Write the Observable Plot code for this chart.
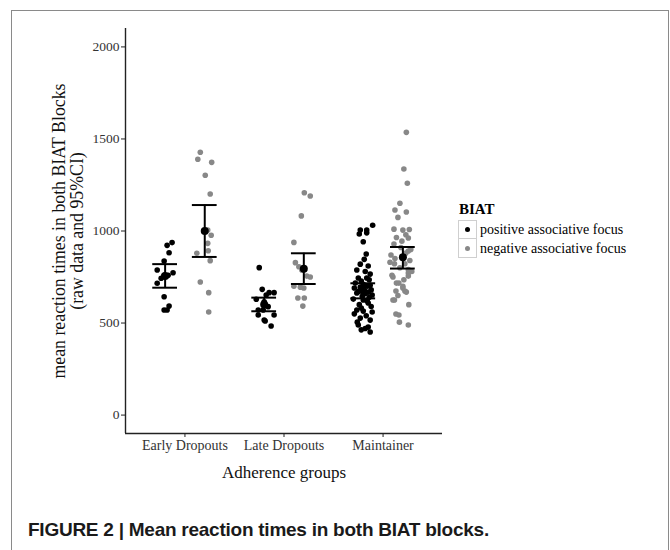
<!DOCTYPE html>
<html>
<head>
<meta charset="utf-8">
<script src="https://cdn.jsdelivr.net/npm/d3@7"></script>
<script src="https://cdn.jsdelivr.net/npm/@observablehq/plot@0.6"></script>
<style>
  html, body { margin: 0; padding: 0; background: #fff; }
  #fig { position: absolute; left: 11px; top: 10px; width: 658px; height: 600px; box-sizing: border-box;
         border: 1px solid #8a8a8a; background: #fff; }
  #chart { position: absolute; left: 0; top: 0; }
  #legend { position: absolute; left: 446px; top: 190px; font-family: "Liberation Serif", "DejaVu Serif", serif; color: #000; }
  #legend .title { font-weight: bold; font-size: 15px; margin-bottom: 2px; margin-left: 1px; }
  #legend .row { display: flex; align-items: center; height: 19px; font-size: 14px; }
  #legend .key { width: 19px; height: 19px; border: 1px solid #cfcfcf; box-sizing: border-box; display: flex;
                 align-items: center; justify-content: center; margin-right: 3px; }
  #legend .row + .row .key { border-top: none; }
  #legend .dot { width: 5px; height: 5px; border-radius: 50%; }
  #caption { position: absolute; left: 16px; top: 508px; font-family: "Liberation Sans", Arial, sans-serif;
             font-weight: bold; font-size: 19px; letter-spacing: -0.25px; color: #1a1a1a; white-space: nowrap; }
</style>
</head>
<body>
<div id="fig">
  <div id="chart"></div>
  <div id="legend"></div>
  <div id="caption">FIGURE 2 | Mean reaction times in both BIAT blocks.</div>
</div>
<script>
// ---- data ----
const groups = ["Early Dropouts", "Late Dropouts", "Maintainer"];
const series = ["positive associative focus", "negative associative focus"];
const seriesColors = ["#000000", "#888888"];
const yTicks = [0, 500, 1000, 1500, 2000];
const yTitle = "mean reaction times in both BIAT Blocks\n(raw data and 95%CI)";
const xTitle = "Adherence groups";

// raw reaction times per group/series, with horizontal jitter (category units)
const earlyPosRT  = [937, 922, 882, 837, 788, 773, 759, 759, 743, 716, 643, 592, 571, 571];
const earlyPosJit = [0.07, 0.02, 0.04, -0.01, -0.08, 0.08, -0.01, 0.03, -0.04, -0.08, -0.01, 0.04, -0.01, 0.02];
const earlyNegRT  = [1428, 1390, 1373, 1303, 1201, 1005, 977, 933, 893, 879, 839, 723, 665, 560];
const earlyNegJit = [-0.045, -0.07, 0.07, 0.005, 0.055, 0.03, 0.065, 0.03, 0.035, -0.08, 0.055, -0.045, 0.04, 0.04];
const latePosRT   = [801, 683, 665, 665, 652, 629, 616, 589, 571, 571, 544, 544, 516, 511, 484];
const latePosJit  = [-0.05, -0.02, 0.05, 0.1, 0.02, -0.08, 0, 0.04, -0.06, -0.01, 0.1, -0.06, 0, 0.01, 0.07];
const lateNegRT   = [1208, 1190, 1082, 938, 828, 806, 788, 755, 750, 700, 695, 690, 636, 636, 592];
const lateNegJit  = [0.005, 0.065, -0.025, -0.1, -0.085, -0.05, -0.02, 0.03, 0.065, -0.1, -0.035, 0, -0.06, 0.005, -0.01];
const maintPosRT  = [1031, 1005, 1005, 984, 990, 942, 875, 846, 820, 810, 788, 780, 766, 745, 745,
                     735, 728, 717, 710, 705, 700, 695, 690, 680, 672, 668, 663, 660, 652, 645,
                     640, 630, 625, 620, 609, 600, 590, 582, 571, 565, 560, 550, 540, 527, 516,
                     505, 489, 478, 470, 463, 451];
const maintPosJit = [0.095, -0.03, 0.035, -0.04, 0.035, 0, 0.03, 0.01, -0.03, 0.05, -0.065, 0.02, 0.07, -0.05, 0.035,
                     0.06, -0.02, -0.08, 0, 0.07, 0.04, -0.03, -0.09, 0.08, -0.05, 0.05, -0.065, 0.02, 0.09, -0.01,
                     0.06, -0.1, 0, 0.04, 0.05, -0.04, 0.08, -0.02, -0.065, 0, 0.09, -0.09, 0.03, -0.03, 0.07,
                     -0.06, -0.05, 0.05, 0.02, -0.02, 0.07];
const maintNegRT  = [1536, 1337, 1259, 1151, 1114, 1103, 1074, 1010, 1005, 1008, 980, 962, 965, 945, 929,
                     910, 900, 891, 880, 870, 860, 850, 840, 830, 822, 822, 800, 790, 780, 772,
                     760, 755, 750, 735, 717, 717, 700, 690, 674, 674, 668, 650, 625, 625, 600,
                     549, 544, 505, 489];
const maintNegJit = [0.035, 0.01, 0.045, -0.03, -0.08, 0.035, -0.05, -0.09, 0, 0.065, 0.03, 0.055, -0.065, -0.01, -0.09,
                     -0.02, 0.08, 0.055, 0.03, -0.12, 0.01, -0.08, 0.07, -0.13, -0.085, 0.02, -0.03, 0.055, 0.09, 0.055,
                     -0.11, 0.055, -0.1, 0.01, -0.065, -0.04, 0, 0, -0.07, 0.02, 0.035, -0.05, -0.085, -0.1, 0.06,
                     -0.07, -0.04, -0.035, 0.055];

// means and 95% CI per group
const posMean = [756, 601, 675];
const posLo   = [692, 564, 634];
const posHi   = [820, 638, 716];
const negMean = [1000, 795, 857];
const negLo   = [859, 712, 796];
const negHi   = [1141, 879, 913];

// ---- build tables ----
const dodge = [-0.2, 0.2];
const capHalf = 0.125;
const rawSets = [
  [0, 0, earlyPosRT, earlyPosJit], [0, 1, earlyNegRT, earlyNegJit],
  [1, 0, latePosRT, latePosJit],   [1, 1, lateNegRT, lateNegJit],
  [2, 0, maintPosRT, maintPosJit], [2, 1, maintNegRT, maintNegJit]
];
const raw = [];
for (const [g, s, rts, jit] of rawSets) rts.forEach((v, i) => raw.push({g, s, x: g + 1 + dodge[s] + jit[i], y: v}));
const summ = [];
groups.forEach((name, g) => {
  summ.push({g, s: 0, x: g + 1 + dodge[0], mean: posMean[g], lo: posLo[g], hi: posHi[g]});
  summ.push({g, s: 1, x: g + 1 + dodge[1], mean: negMean[g], lo: negLo[g], hi: negHi[g]});
});
const caps = summ.flatMap(d => [{x1: d.x - capHalf, x2: d.x + capHalf, y: d.lo}, {x1: d.x - capHalf, x2: d.x + capHalf, y: d.hi}]);

const xDomain = [0.4, groups.length + 0.6];
const yDomain = [-100, 2100];
const axisColor = "#222";
const serif = "Liberation Serif, DejaVu Serif, serif";

const chart = Plot.plot({
  width: 656,
  height: 490,
  marginLeft: 113,
  marginRight: 226,
  marginTop: 17,
  marginBottom: 68,
  style: {fontFamily: serif, background: "transparent", overflow: "visible"},
  x: {type: "linear", domain: xDomain},
  y: {domain: yDomain},
  marks: [
    Plot.axisY({ticks: yTicks, tickFormat: d => String(d), tickSize: 4, tickPadding: 2, fontSize: 13.5, color: "#333",
      stroke: axisColor, strokeWidth: 1, label: null, fontFamily: serif}),
    Plot.axisX({ticks: groups.map((_, i) => i + 1), tickFormat: i => groups[i - 1], tickSize: 4, tickPadding: 3,
      fontSize: 14, color: "#333", stroke: axisColor, strokeWidth: 1, label: null, fontFamily: serif}),
    Plot.text([yTitle], {text: d => d, frameAnchor: "left", rotate: -90, dx: -57, lineAnchor: "middle",
      textAnchor: "middle", fontSize: 17.8, lineHeight: 1.0, fill: "#111", fontFamily: serif}),
    Plot.text([xTitle], {text: d => d, frameAnchor: "bottom", dy: 39, lineAnchor: "middle",
      textAnchor: "middle", fontSize: 17, fill: "#111", fontFamily: serif}),
    Plot.ruleX([xDomain[0]], {y1: yDomain[0], y2: yDomain[1], stroke: axisColor, strokeWidth: 1.4}),
    Plot.ruleY([yDomain[0]], {x1: xDomain[0], x2: xDomain[1], stroke: axisColor, strokeWidth: 1.4}),
    Plot.dot(raw, {x: "x", y: "y", r: 2.8, fill: d => seriesColors[d.s], stroke: "none"}),
    Plot.ruleX(summ, {x: "x", y1: "lo", y2: "hi", stroke: "#000", strokeWidth: 2}),
    Plot.ruleY(caps, {y: "y", x1: "x1", x2: "x2", stroke: "#000", strokeWidth: 2}),
    Plot.dot(summ, {x: "x", y: "mean", r: 4, fill: "#000", stroke: "none"})
  ]
});
document.getElementById("chart").appendChild(chart);

// legend
const leg = document.getElementById("legend");
leg.innerHTML = `<div class="title">BIAT</div>` + series.map((s, i) =>
  `<div class="row"><div class="key"><div class="dot" style="background:${seriesColors[i]}"></div></div><span>${s}</span></div>`).join("");
</script>
</body>
</html>
